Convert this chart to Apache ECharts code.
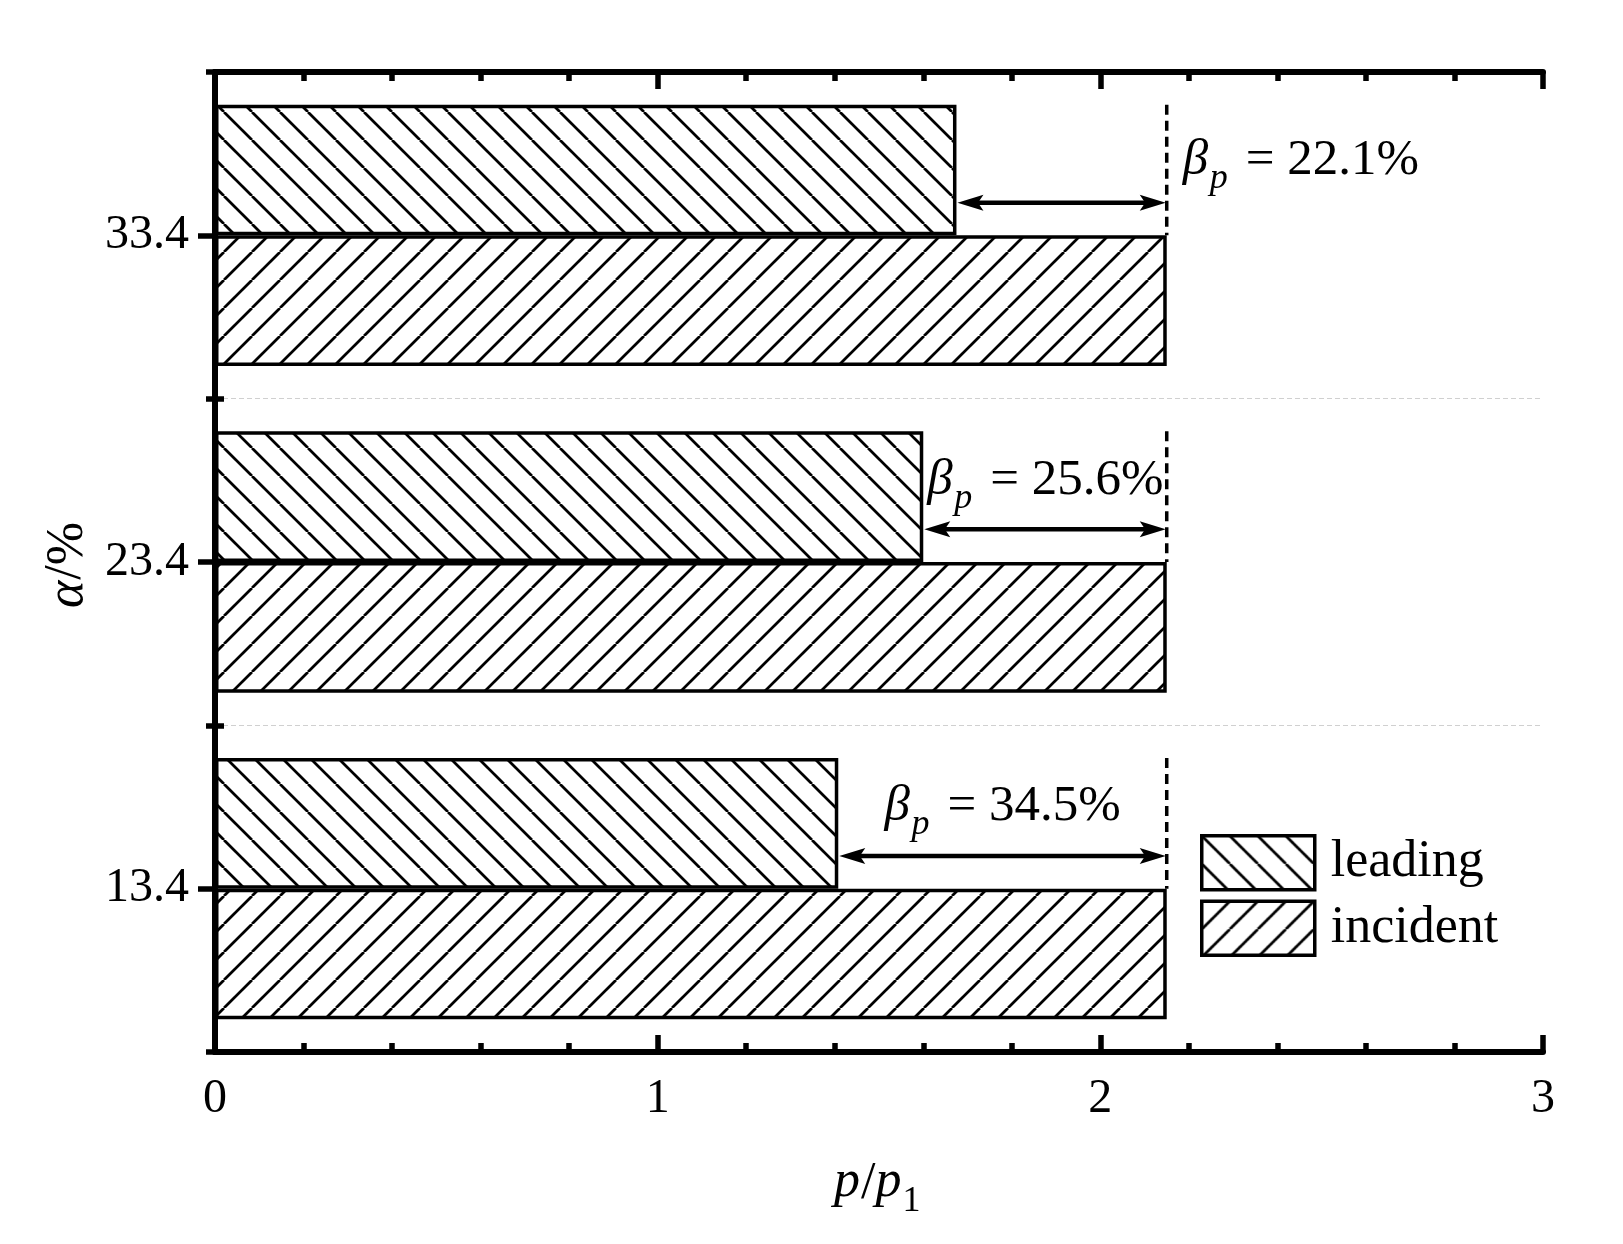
<!DOCTYPE html>
<html><head><meta charset="utf-8">
<script src="https://cdn.jsdelivr.net/npm/echarts@6/dist/echarts.min.js"></script>
<style>html,body{margin:0;padding:0;background:#fff}#c{width:1623px;height:1244px}</style>
</head><body><div id="c"></div>
<script>
// ---- data ----
const categories = ['13.4', '23.4', '33.4'];
const leadingValues = [1.408, 1.600, 1.675];
const incidentValues = [2.15, 2.15, 2.15];
const betaLabels = ['34.5%', '25.6%', '22.1%'];
const xTickLabels = ['0', '1', '2', '3'];
const seriesNames = ['leading', 'incident'];

// ---- styles ----
const FONT = '"Liberation Serif", "Times New Roman", serif';
const labelPlacement = ['center', 'afterBar', 'afterLine'];

const mctx = document.createElement('canvas').getContext('2d');
function tw(text, size, italic) {
  mctx.font = (italic ? 'italic ' : '') + size + 'px ' + FONT;
  return mctx.measureText(text).width;
}

function hatch(dir) {
  const s = 28;
  const c = document.createElement('canvas');
  c.width = s; c.height = s;
  const g = c.getContext('2d');
  g.fillStyle = '#fff'; g.fillRect(0, 0, s, s);
  g.strokeStyle = '#000'; g.lineWidth = 2.7;
  for (let k = -1; k <= 1; k++) {
    g.beginPath();
    if (dir === '/') { g.moveTo(k * s, s); g.lineTo(k * s + s, 0); }
    else { g.moveTo(k * s, 0); g.lineTo(k * s + s, s); }
    g.stroke();
  }
  return c;
}
const patLeading = { image: hatch('\\'), repeat: 'repeat' };
const patIncident = { image: hatch('/'), repeat: 'repeat' };

function txt(text, x, y, size, italic) {
  return { type: 'text', x: x, y: y, style: {
    text: text, fontSize: size, fontFamily: FONT, fontStyle: italic ? 'italic' : 'normal',
    fill: '#000', align: 'left', verticalAlign: 'middle' } };
}

function renderAnno(params, api) {
  const inc = api.value(0), lead = api.value(1), idx = api.value(2);
  const pInc = api.coord([inc, idx]);
  const pLead = api.coord([lead, idx]);
  const band = api.size([0, 1])[1];
  const barH = band * 0.4;
  const cy = pInc[1];
  const top = cy - barH;
  const ay = cy - 0.25 * barH;
  const L = 27, h = 8;
  const xa = pLead[0], xb = pInc[0];
  const children = [];
  children.push({ type: 'line', shape: { x1: xb, y1: top, x2: xb, y2: cy },
    style: { stroke: '#000', lineWidth: 3.5, lineDash: [10, 6] } });
  children.push({ type: 'line', shape: { x1: xa + L * 0.7, y1: ay, x2: xb - L * 0.7, y2: ay },
    style: { stroke: '#000', lineWidth: 4.5 } });
  children.push({ type: 'polygon', shape: { points: [[xa + 1, ay], [xa + L, ay - h], [xa + L * 0.8, ay], [xa + L, ay + h]] },
    style: { fill: '#000' } });
  children.push({ type: 'polygon', shape: { points: [[xb - 1, ay], [xb - L, ay - h], [xb - L * 0.8, ay], [xb - L, ay + h]] },
    style: { fill: '#000' } });
  const label = betaLabels[idx];
  const rest = '= ' + label;
  const fs = 51;
  const totalW = 63 + tw(rest, fs, false);
  const mode = labelPlacement[idx];
  let x0, ty;
  if (mode === 'afterLine') { x0 = xb + 16; ty = top + 0.43 * barH; }
  else if (mode === 'afterBar') { x0 = xa + 4; ty = top + 0.38 * barH; }
  else { x0 = (xa + xb) / 2 - totalW / 2; ty = top + 0.37 * barH; }
  children.push(txt('β', x0, ty, fs, true));
  children.push(txt('p', x0 + 27, ty + 18, 36, true));
  children.push(txt(rest, x0 + 63, ty, fs, false));
  return { type: 'group', children: children };
}

// axis titles (graphic)
function xTitle() {
  const x = 834, y = 1182, s = 52;
  const w1 = tw('p', s, true), w2 = tw('/', s, false), w3 = tw('p', s, true);
  return { type: 'group', children: [
    txt('p', x, y, s, true),
    txt('/', x + w1 + 1, y + 2, s, false),
    txt('p', x + w1 + w2 + 1, y, s, true),
    txt('1', x + w1 + w2 + w3 + 2, y + 20, 36, false)
  ] };
}
function yTitle() {
  const s = 52;
  const w1 = tw('α', s, true), w2 = tw('/', s, false);
  return { type: 'group', x: 68, y: 608, rotation: Math.PI / 2, children: [
    txt('α', 0, 0, s, true),
    txt('/', w1 + 1, -2, s, false),
    txt('%', w1 + w2 + 1, 0, s, false)
  ] };
}

const chart = echarts.init(document.getElementById('c'), null, { renderer: 'canvas' });
const axisLineStyle = { color: '#000', width: 6 };
const tickStyle = { color: '#000', width: 5.5 };
chart.setOption({
  animation: false,
  backgroundColor: '#fff',
  grid: { left: 215, right: 80, top: 72, bottom: 192, containLabel: false },
  legend: {
    data: seriesNames, orient: 'vertical', left: 1200, top: 834,
    itemWidth: 113, itemHeight: 54, itemGap: 8, icon: 'rect', padding: 0,
    itemStyle: { borderColor: '#000', borderWidth: 3.5 },
    textStyle: { fontFamily: FONT, fontSize: 52, color: '#000', padding: [0, 0, 0, 11], lineHeight: 54 },
    selectedMode: false
  },
  xAxis: [
    { type: 'value', min: 0, max: 3, interval: 1, position: 'bottom',
      axisLine: { show: true, lineStyle: axisLineStyle },
      axisTick: { show: true, inside: true, length: 17, lineStyle: tickStyle },
      minorTick: { show: true, splitNumber: 5, length: 9, lineStyle: tickStyle },
      splitLine: { show: false },
      axisLabel: { show: true, margin: 23, fontFamily: FONT, fontSize: 48, color: '#000',
        formatter: function (v) { return xTickLabels[Math.round(v)]; } } },
    { type: 'value', min: 0, max: 3, interval: 1, position: 'top',
      axisLine: { show: true, lineStyle: axisLineStyle },
      axisTick: { show: true, inside: true, length: 17, lineStyle: tickStyle },
      minorTick: { show: true, splitNumber: 5, length: 9, lineStyle: tickStyle },
      splitLine: { show: false }, axisLabel: { show: false } }
  ],
  yAxis: [
    { type: 'category', data: categories, position: 'left',
      axisLine: { show: true, lineStyle: axisLineStyle },
      axisTick: { show: true, inside: true, length: 9, lineStyle: tickStyle },
      splitLine: { show: true, lineStyle: { color: '#d0d0d0', width: 1, type: [5, 3] } },
      axisLabel: { show: true, margin: 26, fontFamily: FONT, fontSize: 48, color: '#000' } },
    { type: 'category', data: categories, position: 'right',
      axisLine: { show: true, lineStyle: axisLineStyle },
      axisTick: { show: true, inside: true, alignWithLabel: true, length: 17, lineStyle: tickStyle },
      splitLine: { show: false }, axisLabel: { show: false } },
    { type: 'category', data: categories, position: 'left', offset: 0,
      axisLine: { show: false },
      axisTick: { show: true, inside: false, length: 9, lineStyle: tickStyle },
      splitLine: { show: false }, axisLabel: { show: false } }
  ],
  series: [
    { name: seriesNames[0], type: 'bar', xAxisIndex: 0, yAxisIndex: 0, data: leadingValues,
      barGap: '0%', barCategoryGap: '20%', z: 2,
      itemStyle: { color: patLeading, borderColor: '#000', borderWidth: 3.5 },
      emphasis: { disabled: true } },
    { name: seriesNames[1], type: 'bar', xAxisIndex: 0, yAxisIndex: 0, data: incidentValues,
      barGap: '0%', barCategoryGap: '20%', z: 2,
      itemStyle: { color: patIncident, borderColor: '#000', borderWidth: 3.5 },
      emphasis: { disabled: true } },
    { type: 'custom', xAxisIndex: 0, yAxisIndex: 0, z: 5, silent: true,
      data: categories.map(function (c, i) { return [incidentValues[i], leadingValues[i], i]; }),
      encode: { x: [0, 1], y: 2 },
      renderItem: renderAnno }
  ],
  graphic: [xTitle(), yTitle()]
});
</script>
</body></html>
